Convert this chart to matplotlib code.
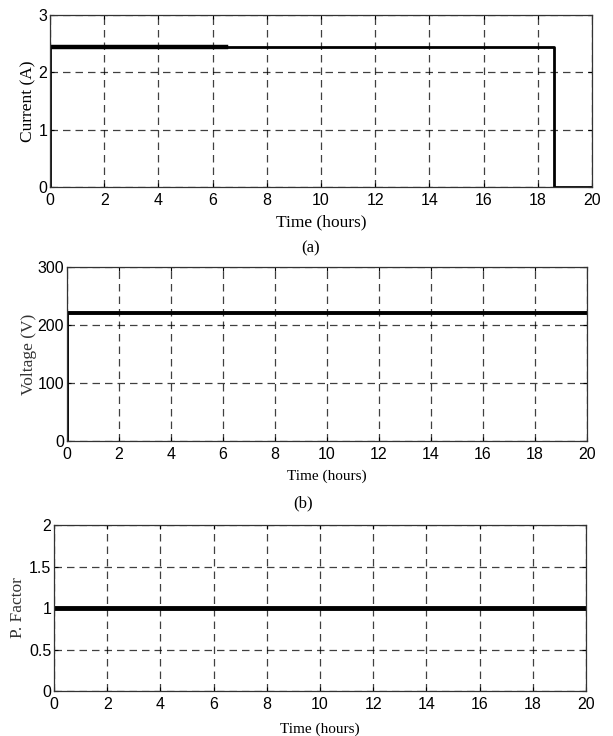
import matplotlib
matplotlib.use("Agg")
import matplotlib.pyplot as plt

# panel (a) current
t_current = [0, 0, 18.6, 18.6, 20]
current = [0, 2.45, 2.45, 0, 0]
t_current_thick = [0, 6.5]
current_thick = [2.45, 2.45]

# panel (b) voltage
t_voltage = [0, 0, 20]
voltage = [0, 220, 220]

# panel (c) power factor
t_pf = [0, 20]
pf = [1, 1]

x_ticks = list(range(0, 21, 2))
SANS = ["Liberation Sans", "DejaVu Sans"]
SERIF = ["Liberation Serif", "DejaVu Serif"]


def style_axes(ax, yticks, ylabels, ylim):
    ax.set_xlim(0, 20)
    ax.set_ylim(*ylim)
    ax.set_xticks(x_ticks)
    ax.set_yticks(yticks)
    ax.set_yticklabels(ylabels, family=SANS, fontsize=11.5)
    ax.set_xticklabels([str(v) for v in x_ticks], family=SANS, fontsize=11.5)
    ax.tick_params(direction="in", length=3, width=0.8, pad=4, top=True, right=True)
    ax.tick_params(axis="y", pad=2)
    ax.grid(True, color="black", linestyle=(0, (6, 4)), linewidth=0.9, alpha=0.75)
    for sp in ax.spines.values():
        sp.set_linewidth(0.9)
        sp.set_color("#333333")


fig = plt.figure(figsize=(6.13, 7.36), dpi=100)

# (a)
ax1 = fig.add_axes([0.0816, 0.7459, 0.884, 0.2337])
ax1.plot(t_current, current, color="black", linewidth=2)
ax1.plot(t_current_thick, current_thick, color="black", linewidth=3.2)
style_axes(ax1, [0, 1, 2, 3], ["0", "1", "2", "3"], (0, 3))
ax1.set_xlabel("Time (hours)", family=SERIF, fontsize=12.5, labelpad=5)
ax1.set_ylabel("Current (A)", family=SERIF, fontsize=12.5)
ax1.yaxis.set_label_coords(-0.025, 0.5)
fig.text(0.507, 1 - 248 / 736, "(a)", family=SERIF, fontsize=12, ha="center", va="center")

# (b)
ax2 = fig.add_axes([0.1093, 0.4008, 0.8483, 0.2364])
ax2.plot(t_voltage, voltage, color="black", linewidth=2.8)
style_axes(ax2, [0, 100, 200, 300], ["0", "100", "200", "300"], (0, 300))
ax2.set_xlabel("Time (hours)", family=SERIF, fontsize=11, labelpad=6)
ax2.set_ylabel("Voltage (V)", family=SERIF, fontsize=12.5, color="#333333")
ax2.yaxis.set_label_coords(-0.058, 0.5)
fig.text(0.495, 1 - 503 / 736, "(b)", family=SERIF, fontsize=12, ha="center", va="center")

# (c)
ax3 = fig.add_axes([0.0881, 0.0611, 0.868, 0.2255])
ax3.plot(t_pf, pf, color="black", linewidth=3.5)
style_axes(ax3, [0, 0.5, 1, 1.5, 2], ["0", "0.5", "1", "1.5", "2"], (0, 2))
ax3.set_xlabel("Time (hours)", family=SERIF, fontsize=11, labelpad=8)
ax3.set_ylabel("P. Factor", family=SERIF, fontsize=12.5, color="#333333")
ax3.yaxis.set_label_coords(-0.052, 0.5)

fig.savefig("out.png", dpi=100)
